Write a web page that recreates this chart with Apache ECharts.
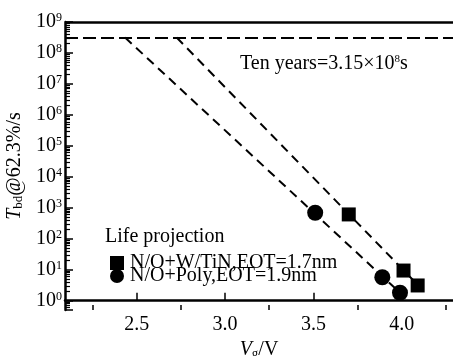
<!DOCTYPE html>
<html><head><meta charset="utf-8">
<script src="https://cdn.jsdelivr.net/npm/echarts@6/dist/echarts.min.js"></script>
<style>html,body{margin:0;padding:0;background:#fff}#c{width:453px;height:356px}</style>
</head><body><div id="c"></div>
<script>
// Data
const squareName = 'N/O+W/TiN,EOT=1.7nm';
const circleName = 'N/O+Poly,EOT=1.9nm';
const squareX = [3.70, 4.01, 4.09];
const squareY = [610, 9.4, 3.1];
const circleX = [3.51, 3.89, 3.99];
const circleY = [690, 5.7, 1.8];
const squareFitX = [2.726, 4.094];
const squareFitY = [3.15e8, 3.1];
const circleFitX = [2.434, 3.99];
const circleFitY = [3.15e8, 1.8];
const tenYears = 3.15e8;
const xMajorTicks = [2.5, 3.0, 3.5, 4.0];
const xMinorTicks = [2.25, 2.75, 3.25, 3.75, 4.25];
const xMin = 2.094, xMax = 4.29;
const yMin = 0.5, yMax = 1e9;
const yMinorMantissas = [2, 3, 4, 5, 6, 7, 8, 9];
const yDecades = [-1, 0, 1, 2, 3, 4, 5, 6, 7, 8];

// log-space positions of the minor ticks (2..9 x 10^n)
const yMinorTicksLog = [];
yDecades.forEach(d => yMinorMantissas.forEach(m => {
  const v = m * Math.pow(10, d);
  if (v > yMin && v < yMax) yMinorTicksLog.push(Math.log10(v));
}));

const zip = (xs, ys) => xs.map((x, i) => [x, ys[i]]);
const FONT = 'Liberation Serif';
const GRID_L = 65, GRID_T = 22, GRID_B = 46, W = 453, H = 356;
const gridW = W - GRID_L, gridH = H - GRID_T - GRID_B;
const chart = echarts.init(document.getElementById('c'), null, {renderer: 'canvas'});

chart.setOption({
  animation: false,
  backgroundColor: '#fff',
  textStyle: {fontFamily: FONT, color: '#000'},
  grid: {left: GRID_L, right: 0, top: GRID_T, bottom: GRID_B, containLabel: false, outerBoundsMode: 'none'},
  xAxis: [{
    type: 'value', min: xMin, max: xMax, position: 'bottom',
    splitLine: {show: false},
    axisLine: {lineStyle: {color: '#000', width: 2.5}},
    axisTick: {inside: true, length: 8, lineStyle: {color: '#000', width: 1.5}, customValues: xMajorTicks},
    axisLabel: {customValues: xMajorTicks, color: '#000', fontFamily: FONT, fontSize: 20, margin: 5,
      formatter: v => v.toFixed(1)},
    name: '{i|V}{s|g}/V',
    nameLocation: 'middle', nameGap: 23,
    nameTextStyle: {color: '#000', fontFamily: FONT, fontSize: 20,
      rich: {i: {fontStyle: 'italic', fontFamily: FONT, fontSize: 20},
             s: {fontFamily: FONT, fontSize: 13, verticalAlign: 'bottom', padding: [8, 0, 0, 0]}}}
  }, {
    // minor ticks: a top axis shifted down onto the bottom edge (outward = up, into the plot)
    type: 'value', min: xMin, max: xMax, position: 'top', offset: -gridH,
    splitLine: {show: false},
    axisLine: {show: false},
    axisTick: {inside: false, length: 5, lineStyle: {color: '#000', width: 1.5}, customValues: xMinorTicks},
    axisLabel: {show: false}
  }],
  yAxis: [{
    type: 'log', logBase: 10, min: yMin, max: yMax, position: 'left',
    splitLine: {show: false},
    axisLine: {lineStyle: {color: '#000', width: 2.5}},
    axisTick: {inside: true, length: 8, lineStyle: {color: '#000', width: 1.5}},
    axisLabel: {
      margin: 3, color: '#000', fontFamily: FONT, fontSize: 20,
      formatter: v => {
        if (v < 1) return '';
        const e = Math.round(Math.log10(v));
        return '{b|10}{p|' + e + '}';
      },
      rich: {
        b: {fontFamily: FONT, fontSize: 20, color: '#000'},
        p: {fontFamily: FONT, fontSize: 12, color: '#000', verticalAlign: 'top', padding: [0, 0, 8, 0]}
      }
    },
    name: '{i|T}{s|bd}@62.3%/s',
    nameLocation: 'middle', nameRotate: 90, nameGap: 40,
    nameTextStyle: {color: '#000', fontFamily: FONT, fontSize: 20,
      rich: {i: {fontStyle: 'italic', fontFamily: FONT, fontSize: 20},
             s: {fontFamily: FONT, fontSize: 13, verticalAlign: 'bottom', padding: [8, 0, 0, 0]}}}
  }, {
    // minor log ticks: a log10-space value axis on the right, shifted onto the left edge (outward = right, into the plot)
    type: 'value', min: Math.log10(yMin), max: Math.log10(yMax), position: 'right', offset: -gridW,
    splitLine: {show: false},
    axisLine: {show: false},
    axisTick: {inside: false, length: 5, lineStyle: {color: '#000', width: 1.2}, customValues: yMinorTicksLog},
    axisLabel: {show: false}
  }],
  legend: {
    left: 105, top: 248, orient: 'vertical',
    itemWidth: 14, itemHeight: 14, itemGap: -7,
    textStyle: {fontFamily: FONT, fontSize: 20, color: '#000', padding: [0, 0, 0, 1]},
    data: [{name: squareName, icon: 'rect'}, {name: circleName, icon: 'circle'}]
  },
  graphic: [
    {type: 'text', left: 105, top: 227, style: {text: 'Life projection', fontFamily: FONT, fontSize: 20, fill: '#000'}},
    {type: 'text', left: 240, top: 54, style: {
      text: 'Ten years=3.15×10{p|8}s', fontFamily: FONT, fontSize: 20, fill: '#000',
      rich: {p: {fontFamily: FONT, fontSize: 11, verticalAlign: 'top', padding: [0, 0, 8, 0]}}
    }}
  ],
  series: [
    {
      name: 'fitSquare', type: 'line', data: zip(squareFitX, squareFitY), symbol: 'none',
      lineStyle: {color: '#000', width: 2, type: [9, 6]}, z: 2
    },
    {
      name: 'fitCircle', type: 'line', data: zip(circleFitX, circleFitY), symbol: 'none',
      lineStyle: {color: '#000', width: 2, type: [9, 6]}, z: 2,
      markLine: {
        silent: true, symbol: 'none', label: {show: false},
        lineStyle: {color: '#000', width: 2, type: [13, 5]},
        data: [
          {yAxis: tenYears},
          {yAxis: yMax, lineStyle: {type: 'solid', width: 2.5, color: '#000'}}
        ]
      }
    },
    {
      name: squareName, type: 'scatter', data: zip(squareX, squareY), symbol: 'rect', symbolSize: 14,
      itemStyle: {color: '#000', opacity: 1}, z: 3
    },
    {
      name: circleName, type: 'scatter', data: zip(circleX, circleY), symbol: 'circle', symbolSize: 16,
      itemStyle: {color: '#000', opacity: 1}, z: 3
    }
  ]
});
</script></body></html>
